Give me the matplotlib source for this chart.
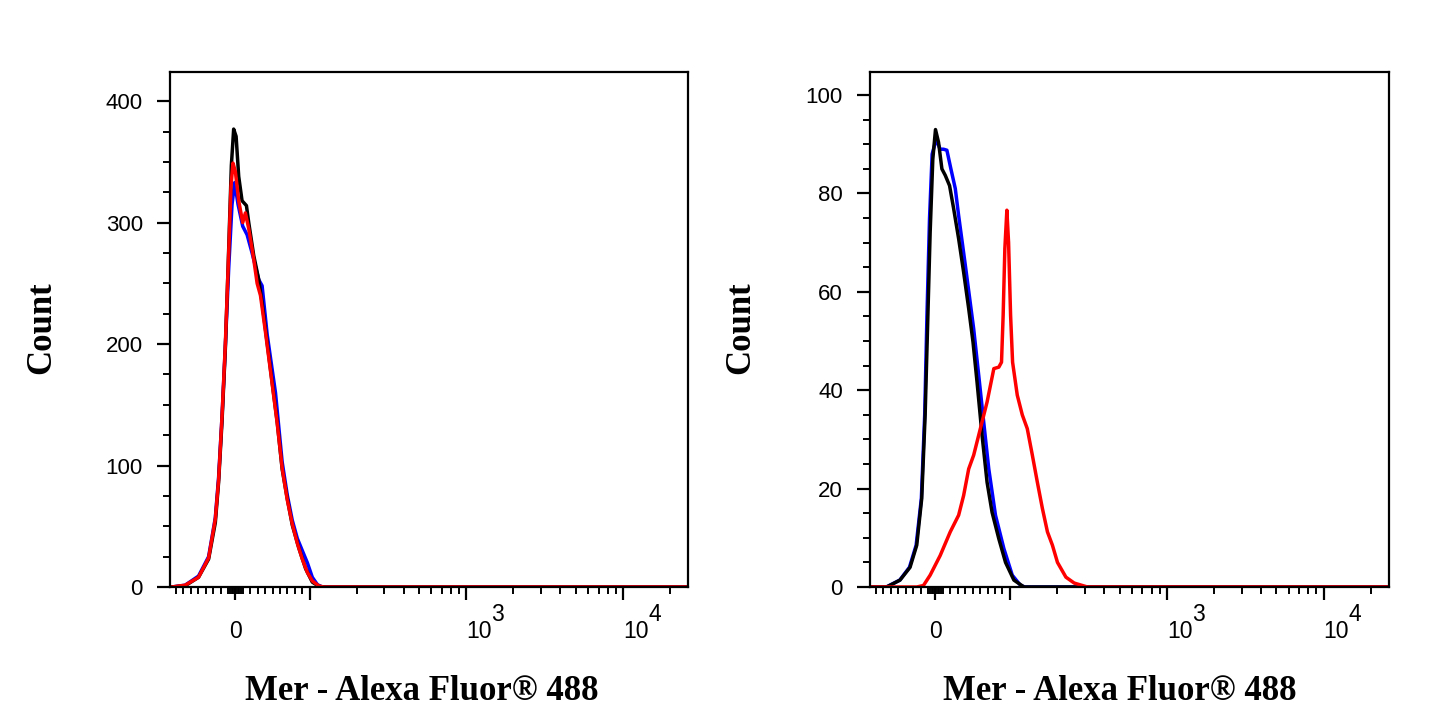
import matplotlib.pyplot as plt
from matplotlib.ticker import FixedLocator

# ---- data: left panel (x = Mer - Alexa Fluor 488 intensity, y = count) ----
l_black_x = [-88, -86, -67.6, -49.6, -36, -27, -22.6, -18, -13.5, -9, -5.4, -2.3, 1, 4.5, 9, 14.9, 18,
             24.7, 31.5, 36, 42.8, 49.6, 56.3, 63, 69.8, 76.6, 85.5, 94.6, 104, 114.7, 126.6, 26000]
l_black_y = [0, 0, 1, 8, 23, 53, 86, 136, 196, 278, 347, 377, 371, 338, 318, 314, 300,
             273, 253, 234, 201, 168, 136, 97, 73, 51, 32, 15, 4, 0.5, 0, 0]

l_red_x = [-88, -85.5, -67.6, -49.6, -36, -27, -22.6, -18, -13.5, -9, -5.9, -3.2, 0, 4.5, 9.9, 13.5, 18,
           24.7, 29.3, 33.8, 40.5, 49.6, 56.3, 63, 69.8, 76.6, 83.4, 90.1, 96.9, 104, 114.7, 123, 26000]
l_red_y = [0, 0, 1.5, 8, 24, 56, 88, 140, 200, 275, 330, 349, 342, 318, 300, 308, 295,
           270, 250, 240, 210, 167, 135, 98, 72, 52, 36, 23, 12, 5, 0.8, 0, 0]

l_blue_x = [-88, -85.5, -67.6, -49.6, -36, -27, -22.6, -18, -13.5, -9, -4.5, -0.9, 3.6, 9.9, 15.8, 22.5,
            31.5, 36, 42.8, 54, 63, 69.8, 76.6, 83.4, 90.1, 96.9, 104, 112, 120, 26000]
l_blue_y = [0, 0, 1.5, 9, 25, 57, 90, 140, 198, 262, 315, 333, 315, 297, 290, 275,
            253, 248, 208, 160, 103, 76, 55, 40, 30, 20, 8, 2, 0, 0]

# ---- data: right panel ----
r_black_x = [-88, -65.8, -47.7, -34.2, -25.2, -18.5, -13.9, -10.8, -7.2, -3.6, 0, 4.1, 8.6, 13.1, 18.9,
             24.3, 31.1, 37.8, 44.6, 50.4, 55.8, 62.6, 69.3, 76, 85.1, 94.1, 106, 123, 26000]
r_black_y = [0, 0, 1.4, 4, 8.5, 18, 35, 52, 72, 87, 93, 90.4, 85, 83.7, 81.6,
             77, 70.8, 64, 56.6, 49.8, 41.7, 30.8, 21.3, 15.2, 9.8, 5, 1.4, 0, 0]

r_blue_x = [-88, -66, -48, -35, -26, -19, -14.5, -11.5, -8, -4.5, 0.9, 6.3, 10.8, 15.3, 20.7, 26.6,
            31.1, 40.1, 51.3, 58.1, 64.8, 71.6, 80.6, 91.9, 103.5, 117, 125, 26000]
r_blue_y = [0, 0, 1.4, 4, 8.5, 18, 35, 55, 75, 88, 91, 89, 89, 88.8, 85, 81,
            75.5, 65.4, 52.5, 43, 33.5, 24, 14.6, 7.8, 2.4, 0.3, 0, 0]

r_red_x = [-88, -25.2, -16.2, -7.2, 6.3, 19.8, 31.1, 37.8, 44.6, 51.3, 60.3, 69.3, 78.4, 85.1, 88.7,
           90.9, 93.2, 95.9, 98.2, 101, 104, 111.4, 119.9, 129, 139, 149.6, 161, 173.5, 186.6,
           201, 227.5, 257, 312, 26000]
r_red_y = [0, 0, 0.3, 2.4, 6.4, 11.2, 14.6, 18.6, 24, 26.8, 32.2, 37.6, 44.4, 44.7, 45.7,
           55.2, 68.8, 76.6, 70, 55.2, 45.7, 39, 35, 32.2, 26.8, 21.3, 16, 11.2, 8.5,
           5, 2, 0.8, 0, 0]

x_major = [0, 100, 1000, 10000]
x_major_labels = ['0', '', '10', '10']
x_exponents = [(1000, '3'), (10000, '4')]
x_minor = [-80, -70, -60, -50, -40, -30, -20, -10, -7, -5, -3, -1, 1, 3, 5, 7, 10,
           20, 30, 40, 50, 60, 70, 80, 90,
           200, 300, 400, 500, 600, 700, 800, 900,
           2000, 3000, 4000, 5000, 6000, 7000, 8000, 9000, 20000]

panels = [
    dict(rect=[170, 688], ylim=(0, 424), ymaj=[0, 100, 200, 300, 400], ymin_step=25,
         lines=[(l_blue_x, l_blue_y, '#0000ff'), (l_black_x, l_black_y, 'black'), (l_red_x, l_red_y, '#ff0000')],
         xlab=421.5, ylab=42),
    dict(rect=[870, 1389], ylim=(0, 104.7), ymaj=[0, 20, 40, 60, 80, 100], ymin_step=5,
         lines=[(r_blue_x, r_blue_y, '#0000ff'), (r_black_x, r_black_y, 'black'), (r_red_x, r_red_y, '#ff0000')],
         xlab=1119.5, ylab=741),
]

W, H = 1445, 723
fig = plt.figure(figsize=(W / 100, H / 100), dpi=100)
fig.patch.set_facecolor('white')
tick_font = 'Liberation Sans'

for p in panels:
    x0, x1 = p['rect']
    ax = fig.add_axes([x0 / W, (H - 587) / H, (x1 - x0) / W, 515 / H])
    for xs, ys, c in p['lines']:
        ax.plot(xs, ys, color=c, lw=2.5, solid_joinstyle='round')
    ax.set_xscale('symlog', linthresh=100, linscale=0.427)
    ax.set_xlim(-88, 26100)
    ax.set_ylim(*p['ylim'])
    ax.set_xticks(x_major, x_major_labels, va='baseline', fontsize=16.5, family=tick_font)
    for lbl in ax.get_xticklabels()[2:]:
        lbl.set_ha('left')
    ax.xaxis.set_minor_locator(FixedLocator(x_minor))
    ax.set_yticks(p['ymaj'])
    for lbl in ax.get_yticklabels():
        lbl.set_family(tick_font)
        lbl.set_fontsize(16)
    ymins = [v for v in range(0, int(p['ylim'][1]) + 1, p['ymin_step']) if v not in p['ymaj']]
    ax.yaxis.set_minor_locator(FixedLocator(ymins))
    ax.tick_params(axis='x', which='major', length=9.5, width=1.6, pad=27.3)
    ax.tick_params(axis='x', which='minor', length=5, width=1.4)
    ax.tick_params(axis='y', which='major', length=9.5, width=1.6, pad=10)
    ax.tick_params(axis='y', which='minor', length=5, width=1.4)
    for s in ax.spines.values():
        s.set_linewidth(1.6)
    for xv, e in x_exponents:
        ax.annotate(e, xy=(xv, 0), xycoords=('data', 'axes fraction'), xytext=(18.2, -24.3),
                    textcoords='offset points', ha='left', va='baseline', fontsize=16.5,
                    family=tick_font, annotation_clip=False)
    fig.text(p['xlab'] / W, 1 - 700 / H, 'Mer - Alexa Fluor® 488', family='Liberation Serif',
             fontsize=25, fontweight='bold', ha='center', va='baseline')
    fig.text(p['ylab'] / W, 1 - 328 / H, 'Count', family='Liberation Serif',
             fontsize=25, fontweight='bold', ha='center', va='center', rotation=90)

fig.savefig('out.png', dpi=100)
